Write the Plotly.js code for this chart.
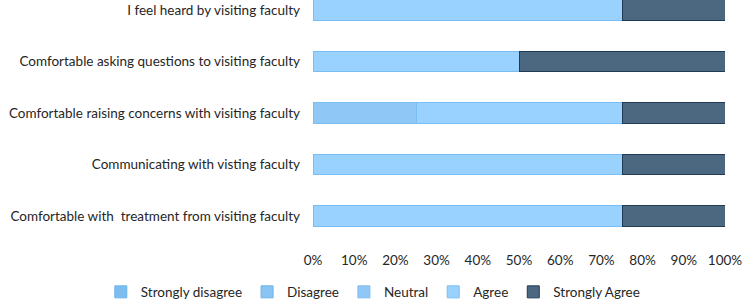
<!DOCTYPE html>
<html>
<head>
<meta charset="utf-8">
<script src="https://cdn.plot.ly/plotly-3.0.1.min.js"></script>
<style>
  html, body { margin: 0; padding: 0; background: #fff; }
  #chart { width: 744px; height: 299px; }
</style>
</head>
<body>
<div id="chart"></div>
<script>
// Survey statements (top to bottom)
const categories = [
  "I feel heard by visiting faculty",
  "Comfortable asking questions to visiting faculty",
  "Comfortable raising concerns with visiting faculty",
  "Communicating with visting faculty",
  "Comfortable with\u00a0 treatment from visiting faculty"
];

// Share of responses per statement, in percent
const stronglyDisagree = [0, 0, 0, 0, 0];
const disagree         = [0, 0, 0, 0, 0];
const neutral          = [0, 0, 25, 0, 0];
const agree            = [75, 50, 50, 75, 75];
const stronglyAgree    = [25, 50, 25, 25, 25];

const xTicks = [0, 10, 20, 30, 40, 50, 60, 70, 80, 90, 100];

const seriesNames = ["Strongly disagree", "Disagree", "Neutral", "Agree", "Strongly Agree"];
const seriesValues = [stronglyDisagree, disagree, neutral, agree, stronglyAgree];
const fills = ["#7cbdf0", "#89c5f4", "#8fc8f6", "#99d1ff", "#4b6880"];
const edges = ["#6cb3ea", "#6cb3ea", "#7dbdf0", "#79bdf2", "#213b55"];

const FONT = "Lato, 'Open Sans', sans-serif";

const traces = seriesNames.map((name, i) => ({
  type: "bar",
  orientation: "h",
  name: name,
  y: categories,
  x: seriesValues[i],
  marker: { color: fills[i], line: { color: edges[i], width: 1 } },
  hoverinfo: "x+name"
}));

const layout = {
  width: 744,
  height: 299,
  margin: { l: 313, r: 19, t: 0, b: 57, autoexpand: false },
  paper_bgcolor: "#ffffff",
  plot_bgcolor: "#ffffff",
  barmode: "stack",
  bargap: 0.61,
  font: { family: FONT, size: 13.5, color: "#262626" },
  xaxis: {
    range: [0, 100],
    tickvals: xTicks,
    ticktext: xTicks.map(v => v + "%"),
    showgrid: false,
    zeroline: false,
    showline: false,
    ticks: "",
    ticklabelstandoff: 8,
    fixedrange: true
  },
  yaxis: {
    categoryorder: "array",
    categoryarray: categories,
    range: [4.505, -0.194],
    showgrid: false,
    zeroline: false,
    showline: false,
    ticks: "",
    ticklabelstandoff: 12,
    fixedrange: true
  },
  legend: {
    orientation: "h",
    x: -0.515,
    xanchor: "left",
    y: -0.207,
    yanchor: "middle",
    font: { family: FONT, size: 13.5, color: "#262626" },
    itemclick: false,
    traceorder: "normal"
  },
  showlegend: true
};

Plotly.newPlot("chart", traces, layout, { displayModeBar: false, staticPlot: true });
</script>
</body>
</html>
